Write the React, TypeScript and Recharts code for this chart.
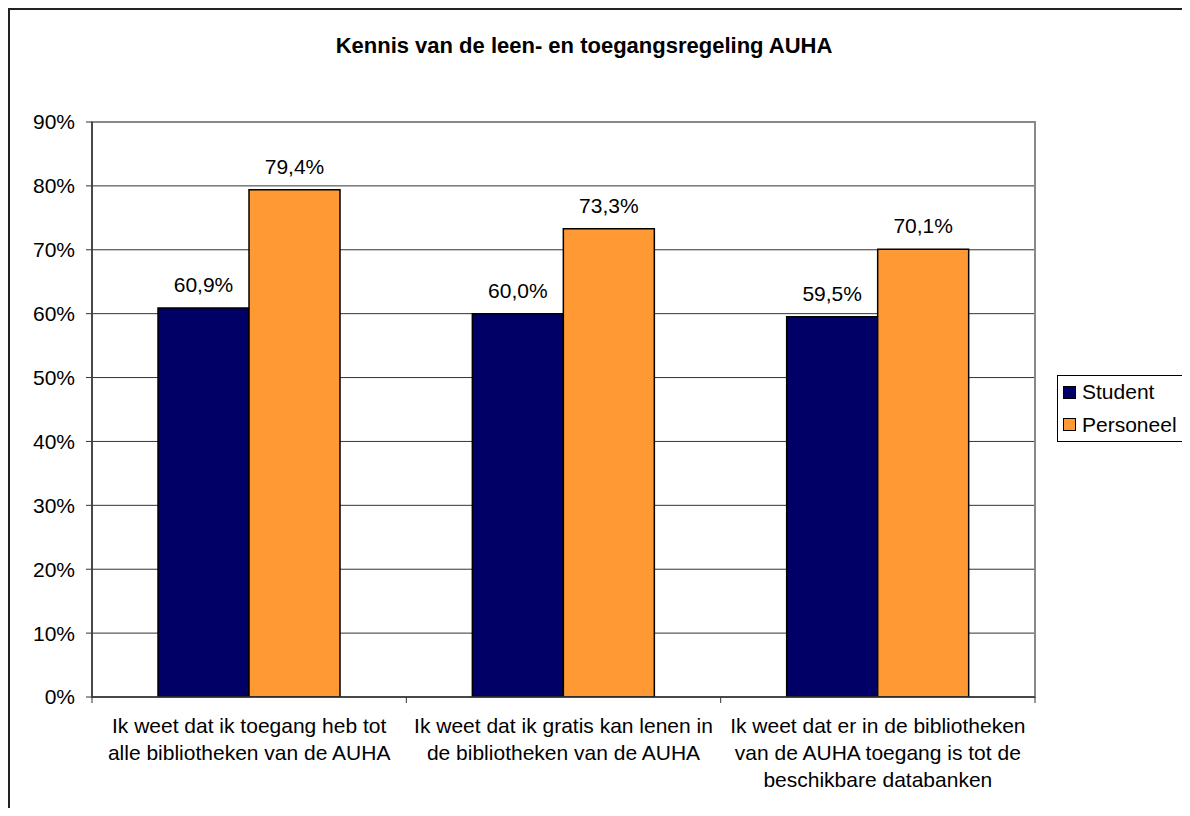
import React from "react";
import {
  BarChart,
  Bar,
  XAxis,
  YAxis,
  CartesianGrid,
  Legend,
  LabelList,
  ReferenceArea,
} from "recharts";

const categories = ["toegang", "lenen", "databanken"];
const tickLines = [
  ["Ik weet dat ik toegang heb tot", "alle bibliotheken van de AUHA"],
  ["Ik weet dat ik gratis kan lenen in", "de bibliotheken van de AUHA"],
  ["Ik weet dat er in de bibliotheken", "van de AUHA toegang is tot de", "beschikbare databanken"],
];
const student = [60.9, 60.0, 59.5];
const personeel = [79.4, 73.3, 70.1];
const yTicks = [0, 10, 20, 30, 40, 50, 60, 70, 80, 90];

const data = categories.map((c, i) => ({
  cat: c,
  Student: student[i],
  Personeel: personeel[i],
}));

const FONT = '"Liberation Sans", Arial, sans-serif';
const NAVY = "#000066";
const ORANGE = "#FF9933";
const HALF_BAND = 943 / 3 / 2;

const fmtLabel = (v: any) => `${Number(v).toFixed(1).replace(".", ",")}%`;

function CatTick(props: any) {
  const { x, y, payload, index } = props;
  const idx = payload.index ?? index;
  const lines = tickLines[idx] || [];
  const last = idx === categories.length - 1;
  return (
    <g>
      <line x1={x - HALF_BAND} x2={x - HALF_BAND} y1={y} y2={y + 6} stroke="#333" />
      {last && <line x1={x + HALF_BAND} x2={x + HALF_BAND} y1={y} y2={y + 6} stroke="#333" />}
      {lines.map((l, i) => (
        <text
          key={i}
          x={x}
          y={y + 36 + i * 27}
          textAnchor="middle"
          fontSize={21}
          fontFamily={FONT}
          fill="#000"
        >
          {l}
        </text>
      ))}
    </g>
  );
}

function LegendBox() {
  const items = [
    { name: "Student", color: NAVY },
    { name: "Personeel", color: ORANGE },
  ];
  return (
    <div
      style={{
        width: 131,
        height: 67,
        boxSizing: "border-box",
        border: "1px solid #000",
        background: "#fff",
        fontFamily: FONT,
        fontSize: 21,
        color: "#000",
      }}
    >
      {items.map((it) => (
        <div key={it.name} style={{ height: 32.5, display: "flex", alignItems: "center", paddingLeft: 5 }}>
          <span
            style={{
              display: "inline-block",
              width: 11,
              height: 11,
              background: it.color,
              border: "1.5px solid #000",
              marginRight: 6,
            }}
          />
          <span>{it.name}</span>
        </div>
      ))}
    </div>
  );
}

export default function App() {
  return (
    <div
      style={{
        position: "relative",
        width: 1180,
        height: 798,
        borderTop: "2px solid #222",
        borderLeft: "2px solid #222",
        background: "#fff",
        fontFamily: FONT,
      }}
    >
      <div
        style={{
          position: "absolute",
          left: 0,
          top: 24,
          width: 1148,
          textAlign: "center",
          fontSize: 22,
          fontWeight: "bold",
          lineHeight: "24px",
        }}
      >
        Kennis van de leen- en toegangsregeling AUHA
      </div>
      <BarChart
        width={1180}
        height={798}
        data={data}
        margin={{ top: 112, right: 155, left: 12, bottom: 11 }}
        barCategoryGap="21%"
        barGap={0}
      >
        <CartesianGrid vertical={false} stroke="#333" strokeWidth={1} />
        <ReferenceArea y1={0} y2={90} fill="none" stroke="#888" strokeWidth={2} />
        <XAxis
          dataKey="cat"
          height={100}
          tickSize={0}
          tickMargin={0}
          tickLine={false}
          axisLine={{ stroke: "#333", strokeWidth: 1.5 }}
          tick={<CatTick />}
          interval={0}
        />
        <YAxis
          width={70}
          domain={[0, 90]}
          ticks={yTicks}
          tickFormatter={(v) => `${v}%`}
          tickSize={6}
          tickMargin={11}
          axisLine={{ stroke: "#333", strokeWidth: 1.5 }}
          tickLine={{ stroke: "#333" }}
          tick={{ fontSize: 21, fontFamily: FONT, fill: "#000" }}
          allowDataOverflow
        />
        <Legend
          layout="vertical"
          align="center"
          verticalAlign="middle"
          content={<LegendBox />}
          wrapperStyle={{ left: 1047, top: 365, width: 131, height: 67 }}
        />
        <Bar dataKey="Student" fill={NAVY} stroke="#000" strokeWidth={1.5} isAnimationActive={false}>
          <LabelList dataKey="Student" position="top" offset={16} formatter={fmtLabel} fontSize={21} fontFamily={FONT} fill="#000" />
        </Bar>
        <Bar dataKey="Personeel" fill={ORANGE} stroke="#000" strokeWidth={1.5} isAnimationActive={false}>
          <LabelList dataKey="Personeel" position="top" offset={16} formatter={fmtLabel} fontSize={21} fontFamily={FONT} fill="#000" />
        </Bar>
      </BarChart>
    </div>
  );
}
